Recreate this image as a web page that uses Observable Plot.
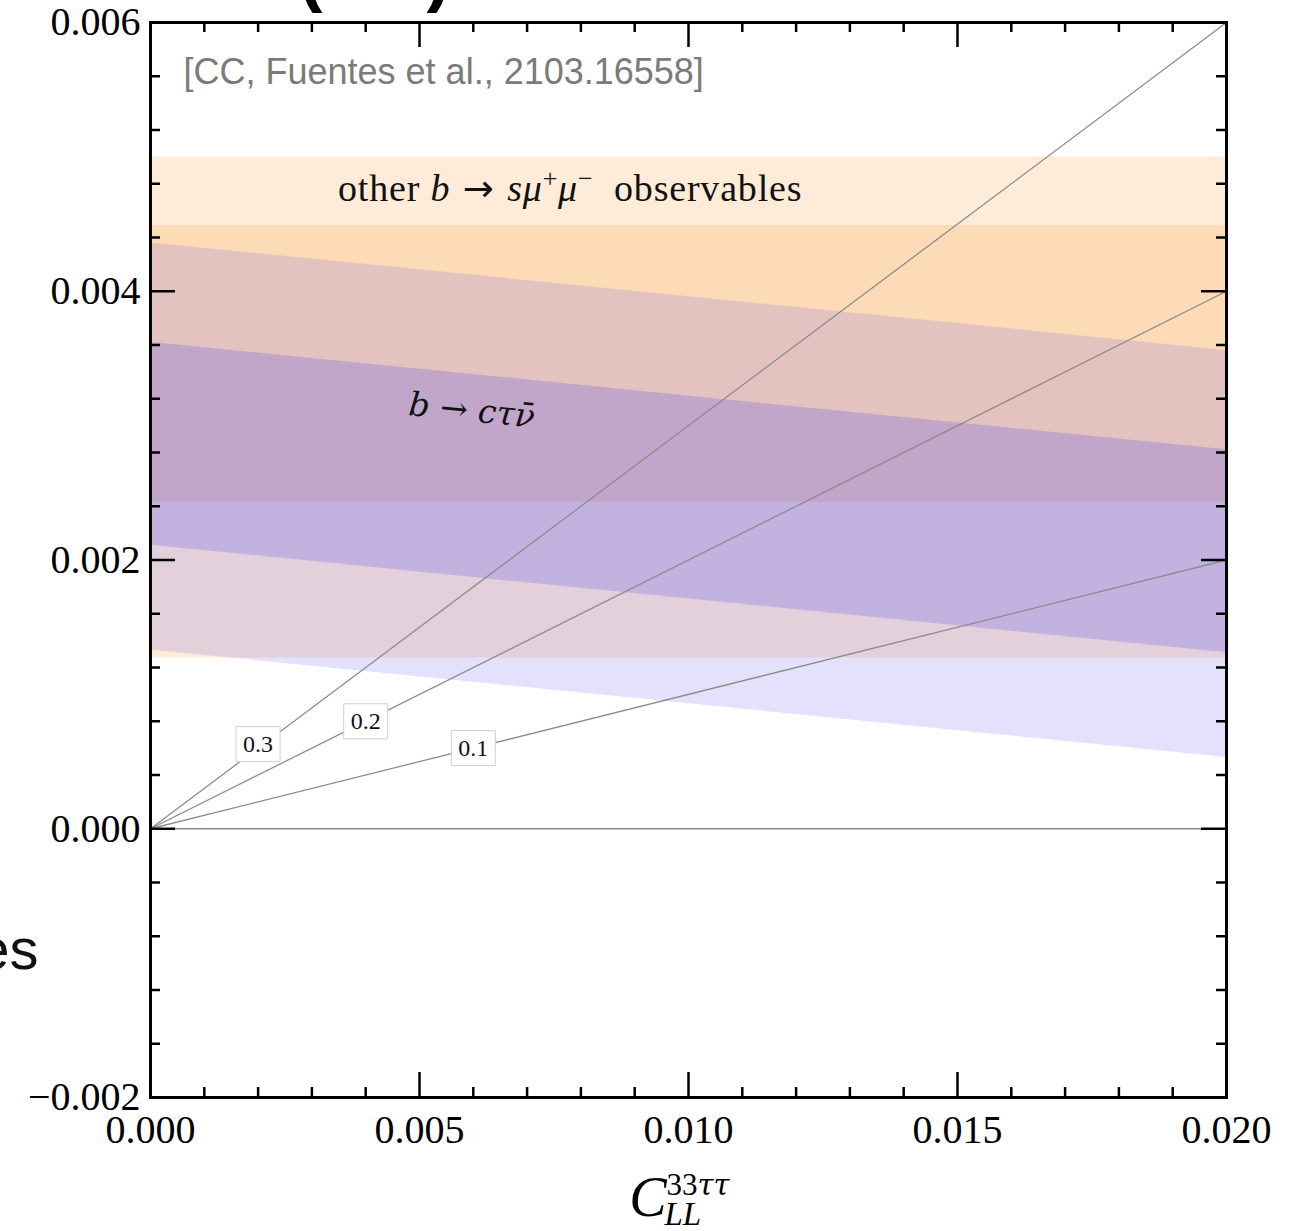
<!DOCTYPE html>
<html>
<head>
<meta charset="utf-8">
<script src="https://cdn.jsdelivr.net/npm/d3@7"></script>
<script src="https://cdn.jsdelivr.net/npm/@observablehq/plot@0.6"></script>
<style>
  html, body { margin: 0; padding: 0; background: white; }
  #chart svg { display: block; }
</style>
</head>
<body>
<div id="chart"></div>
<script>
// ---------- data ----------
const xDomain = [0, 0.02];
const yDomain = [-0.002, 0.006];

const xMajor = [0, 0.005, 0.01, 0.015, 0.02];
const xMinor = [0.001, 0.002, 0.003, 0.004, 0.006, 0.007, 0.008, 0.009,
                0.011, 0.012, 0.013, 0.014, 0.016, 0.017, 0.018, 0.019];
const yMajor = [-0.002, 0, 0.002, 0.004, 0.006];
const yMinor = [-0.0016, -0.0012, -0.0008, -0.0004, 0.0004, 0.0008, 0.0012, 0.0016,
                0.0024, 0.0028, 0.0032, 0.0036, 0.0044, 0.0048, 0.0052, 0.0056];

// bands (value at x = 0 and x = 0.02)
const bandX = [0, 0.02];
const bsmmOuterLow  = [0.00127, 0.00127];
const bsmmOuterHigh = [0.00500, 0.00500];
const bsmmInnerLow  = [0.00243, 0.00243];
const bsmmInnerHigh = [0.00449, 0.00449];
const bctnOuterLow  = [0.00133, 0.00053];
const bctnOuterHigh = [0.00436, 0.00356];
const bctnInnerLow  = [0.00211, 0.00131];
const bctnInnerHigh = [0.00362, 0.00282];

// reference rays from the origin
const rayNames  = ["0", "0.1", "0.2", "0.3"];
const rayStartX = [0, 0, 0, 0];
const rayStartY = [0, 0, 0, 0];
const rayEndX   = [0.02, 0.02, 0.02, 0.02];
const rayEndY   = [0, 0.002, 0.004, 0.006];

// ray labels
const rayLabels = ["0.1", "0.2", "0.3"];
const rayLabelX = [0.006, 0.004, 0.002];
const rayLabelY = [0.0006, 0.0008, 0.00063];

// annotations
const citeText  = "[CC, Fuentes et al., 2103.16558]";
const bsmmText  = "other b → sμ+μ− observables";
const bsmmPos   = [0.0078, 0.00476];
const bctnText  = "b → cτν̄";
const bctnPos   = [0.00597, 0.00311];
const titleText = "(CC)";
const sideText  = "es";
const axisSup   = "33ττ";
const axisSub   = "LL";

// ---------- build ----------
const band = (lo, hi) => bandX.map((x, i) => ({x, lo: lo[i], hi: hi[i]}));
const rays = rayNames.map((n, i) => ({n, x1: rayStartX[i], y1: rayStartY[i], x2: rayEndX[i], y2: rayEndY[i]}));
const labels = rayLabels.map((t, i) => ({t, x: rayLabelX[i], y: rayLabelY[i]}));

const W = 1307, H = 1231;
const mL = 150, mR = 81, mT = 22, mB = 134;
const frameH = H - mT - mB;
const frameW = W - mL - mR;
const majorLen = 25, minorLen = 10;

const boxSymbol = { draw(ctx) { ctx.rect(-22, -17.5, 44, 35); } };

const fmt = d3.format(".3f");
const sans = "Liberation Sans, Arial, sans-serif";

const chart = Plot.plot({
  width: W, height: H,
  marginLeft: mL, marginRight: mR, marginTop: mT, marginBottom: mB,
  x: { domain: xDomain },
  y: { domain: yDomain },
  style: { fontFamily: "Liberation Serif, DejaVu Serif, serif", fontSize: "40px", background: "white", color: "black" },
  marks: [
    Plot.areaY(band(bsmmOuterLow, bsmmOuterHigh), {x: "x", y1: "lo", y2: "hi", fill: "#FEEBD8"}),
    Plot.areaY(band(bsmmInnerLow, bsmmInnerHigh), {x: "x", y1: "lo", y2: "hi", fill: "#FDDBB6"}),
    Plot.areaY(band(bctnOuterLow, bctnOuterHigh), {x: "x", y1: "lo", y2: "hi", fill: "rgb(96,75,237)", fillOpacity: 0.17}),
    Plot.areaY(band(bctnInnerLow, bctnInnerHigh), {x: "x", y1: "lo", y2: "hi", fill: "rgb(50,40,250)", fillOpacity: 0.18}),

    Plot.link(rays, {x1: "x1", y1: "y1", x2: "x2", y2: "y2", stroke: "#8c8c8c", strokeWidth: 1.3}),

    Plot.dot(labels, {x: "x", y: "y", symbol: () => boxSymbol, r: 5, fill: "white", stroke: "#cfcfcf", strokeWidth: 1}),
    Plot.text(labels, {x: "x", y: "y", text: "t", fontSize: 24, fill: "#111"}),

    // annotations
    Plot.text([bsmmText], {x: () => bsmmPos[0], y: () => bsmmPos[1], text: d => d, fontSize: 38, fill: "#111"}),
    Plot.text([bctnText], {x: () => bctnPos[0], y: () => bctnPos[1], text: d => d, fontSize: 33, fontStyle: "italic",
      fontFamily: "DejaVu Serif, serif", rotate: 5.7, fill: "#111"}),
    Plot.text([citeText], {frameAnchor: "top-left", text: d => d, dx: 33, dy: 50, textAnchor: "start", lineAnchor: "middle",
      fontFamily: sans, fontSize: 36, fill: "#7a7a7a"}),
    Plot.text([titleText], {frameAnchor: "top-left", text: d => d, dx: 224, dy: -48, textAnchor: "middle", lineAnchor: "middle",
      fontFamily: sans, fontWeight: "bold", fontSize: 72, fill: "black"}),
    Plot.text([sideText], {frameAnchor: "top-left", text: d => d, dx: 38 - mL, dy: 950 - mT, textAnchor: "end", lineAnchor: "middle",
      fontFamily: sans, fontSize: 58, fill: "#111"}),

    // x-axis label C_LL^{33ττ}
    Plot.text(["C"], {frameAnchor: "bottom", text: d => d, dx: -22, dy: 101, textAnchor: "end", lineAnchor: "middle",
      fontSize: 56, fontStyle: "italic", fill: "black"}),
    Plot.text([axisSup], {frameAnchor: "bottom", text: d => d, dx: -22, dy: 88, textAnchor: "start", lineAnchor: "middle",
      fontSize: 31, fill: "black"}),
    Plot.text([axisSub], {frameAnchor: "bottom", text: d => d, dx: -24, dy: 117, textAnchor: "start", lineAnchor: "middle",
      fontSize: 33, fontStyle: "italic", fill: "black"}),

    // axes labels
    Plot.axisX(xMajor, {anchor: "bottom", tickSize: 0, tickPadding: 17, tickFormat: fmt, label: null, fontSize: 40}),
    Plot.axisY(yMajor, {anchor: "left", tickSize: 0, tickPadding: 10, tickFormat: fmt, label: null, fontSize: 40}),

    // inward ticks on all four sides
    Plot.ruleX(xMajor, {x: d => d, insetTop: frameH - majorLen, stroke: "black", strokeWidth: 2.5}),
    Plot.ruleX(xMajor, {x: d => d, insetBottom: frameH - majorLen, stroke: "black", strokeWidth: 2.5}),
    Plot.ruleX(xMinor, {x: d => d, insetTop: frameH - minorLen, stroke: "black", strokeWidth: 2.5}),
    Plot.ruleX(xMinor, {x: d => d, insetBottom: frameH - minorLen, stroke: "black", strokeWidth: 2.5}),
    Plot.ruleY(yMajor, {y: d => d, insetRight: frameW - majorLen, stroke: "black", strokeWidth: 2.5}),
    Plot.ruleY(yMajor, {y: d => d, insetLeft: frameW - majorLen, stroke: "black", strokeWidth: 2.5}),
    Plot.ruleY(yMinor, {y: d => d, insetRight: frameW - minorLen, stroke: "black", strokeWidth: 2.5}),
    Plot.ruleY(yMinor, {y: d => d, insetLeft: frameW - minorLen, stroke: "black", strokeWidth: 2.5}),

    Plot.frame({stroke: "black", strokeWidth: 3})
  ]
});

// mixed italic / superscript styling for the b -> s mu mu label
d3.select(chart).selectAll("text").filter(function () { return this.textContent === bsmmText; })
  .each(function () {
    const t = d3.select(this).attr("letter-spacing", 0.8);
    t.text(null);
    t.append("tspan").text("other ");
    t.append("tspan").attr("font-style", "italic").text("b");
    t.append("tspan").attr("font-family", "DejaVu Sans, sans-serif").attr("font-size", 37).text(" → ");
    t.append("tspan").attr("font-style", "italic").text("sμ");
    t.append("tspan").attr("dy", -14).attr("font-size", 26).text("+");
    t.append("tspan").attr("dy", 14).attr("font-style", "italic").text("μ");
    t.append("tspan").attr("dy", -14).attr("font-size", 26).text("−");
    t.append("tspan").attr("dy", 14).text("\u00a0\u00a0observables");
  });

// superscript of the x-axis label: roman digits, italic taus
d3.select(chart).selectAll("text").filter(function () { return this.textContent === axisSup; })
  .each(function () {
    const t = d3.select(this);
    t.text(null);
    t.append("tspan").text("33");
    t.append("tspan").attr("font-style", "italic").attr("font-family", "DejaVu Serif, serif").attr("font-size", 29).text("ττ");
  });

document.getElementById("chart").appendChild(chart);
</script>
</body>
</html>
